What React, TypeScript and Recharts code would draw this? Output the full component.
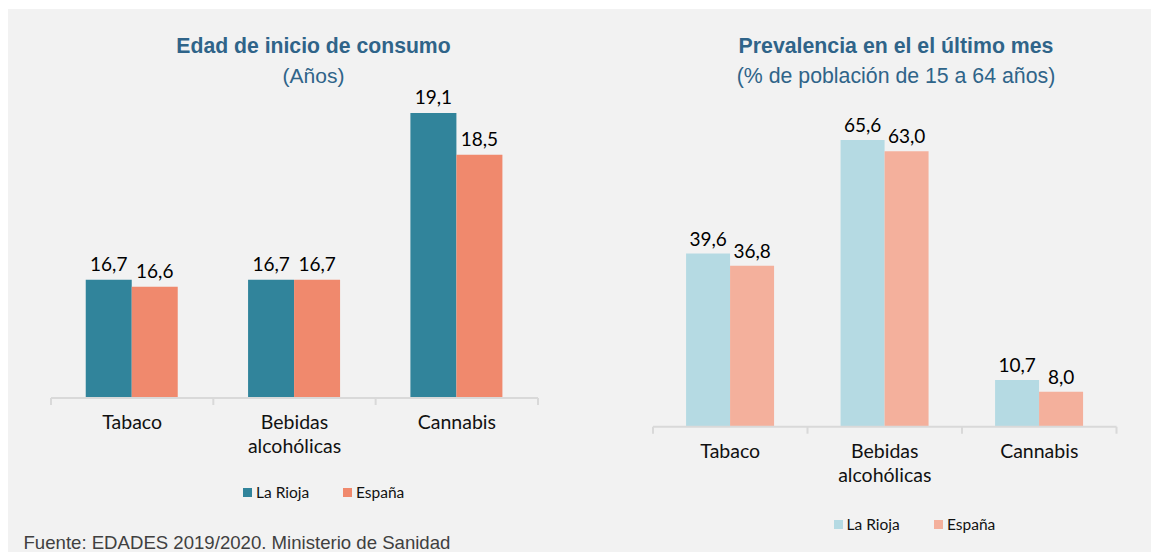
import React from "react";
import { BarChart, Bar, XAxis, YAxis, LabelList } from "recharts";

const categories = ["Tabaco", "Bebidas alcohólicas", "Cannabis"];
const seriesNames = ["La Rioja", "España"];

// Edad de inicio de consumo (años)
const edadRioja = [16.7, 16.7, 19.1];
const edadEspana = [16.6, 16.7, 18.5];

// Prevalencia en el último mes (%)
const prevRioja = [39.6, 65.6, 10.7];
const prevEspana = [36.8, 63.0, 8.0];

const leftColors = ["#31849b", "#f0896d"];
const rightColors = ["#b5dae3", "#f4b09c"];

const edadData = categories.map((name, i) => ({
  name,
  rioja: edadRioja[i],
  espana: edadEspana[i],
}));

const prevData = categories.map((name, i) => ({
  name,
  rioja: prevRioja[i],
  espana: prevEspana[i],
}));

const fmt = (v: any) => Number(v).toFixed(1).replace(".", ",");

const CatTick = (props: any) => {
  const { x, y, payload, index, visibleTicksCount, width, fs } = props;
  const half =
    payload && payload.offset ? payload.offset : width / visibleTicksCount / 2;
  const lines = String(payload.value).split(" ");
  return (
    <g>
      <line x1={x - half} x2={x - half} y1={y} y2={y + 7} stroke="#d9d9d9" strokeWidth={2} />
      {index === visibleTicksCount - 1 && (
        <line x1={x + half} x2={x + half} y1={y} y2={y + 7} stroke="#d9d9d9" strokeWidth={2} />
      )}
      <text x={x} y={y + 31} textAnchor="middle" fontFamily="Lato" fontSize={fs} fill="#111">
        {lines.map((l, i) => (
          <tspan key={i} x={x} dy={i === 0 ? 0 : 24}>
            {l}
          </tspan>
        ))}
      </text>
    </g>
  );
};

const LegendItem = ({ left, top, color, label }: any) => (
  <div
    style={{
      position: "absolute",
      left,
      top,
      height: 20,
      display: "flex",
      alignItems: "center",
      fontFamily: "Lato",
      fontSize: 15.5,
      color: "#111",
      whiteSpace: "nowrap",
    }}
  >
    <span style={{ width: 9, height: 9, background: color, marginRight: 4, display: "inline-block" }} />
    {label}
  </div>
);

const titleStyle: React.CSSProperties = {
  position: "absolute",
  width: 400,
  textAlign: "center",
  fontFamily: "'Liberation Sans', Arial, sans-serif",
  color: "#2f6489",
  lineHeight: "24px",
  whiteSpace: "nowrap",
};

const App = () => {
  return (
    <div
      style={{
        position: "relative",
        marginTop: 1,
        width: 1151,
        height: 543,
        background: "#f2f2f2",
        overflow: "hidden",
      }}
    >
      <div style={{ ...titleStyle, left: 105.5, top: 25, fontSize: 21.2, fontWeight: "bold" }}>
        Edad de inicio de consumo
      </div>
      <div style={{ ...titleStyle, left: 105.5, top: 55, fontSize: 21 }}>(Años)</div>

      <div style={{ ...titleStyle, left: 688, top: 25, fontSize: 21.3, fontWeight: "bold" }}>
        Prevalencia en el el último mes
      </div>
      <div style={{ ...titleStyle, left: 688, top: 55, fontSize: 21.3 }}>
        (% de población de 15 a 64 años)
      </div>

      <div style={{ position: "absolute", left: 0, top: 0 }}>
        <BarChart
          width={560}
          height={470}
          data={edadData}
          margin={{ top: 41.5, left: 43, right: 30, bottom: 11 }}
          barCategoryGap="21.4%"
          barGap={0}
        >
          <XAxis
            dataKey="name"
            height={70}
            interval={0}
            tickSize={0}
            tickMargin={0}
            tickLine={false}
            axisLine={{ stroke: "#d9d9d9", strokeWidth: 2 }}
            tick={(p: any) => <CatTick {...p} fs={19.5} />}
          />
          <YAxis hide domain={[15, 20]} />
          <Bar dataKey="rioja" fill={leftColors[0]} isAnimationActive={false}>
            <LabelList dataKey="rioja" position="top" offset={9} formatter={fmt} fill="#000" fontSize={19} fontFamily="Lato" />
          </Bar>
          <Bar dataKey="espana" fill={leftColors[1]} isAnimationActive={false}>
            <LabelList dataKey="espana" position="top" offset={9} formatter={fmt} fill="#000" fontSize={19} fontFamily="Lato" />
          </Bar>
        </BarChart>
      </div>

      <div style={{ position: "absolute", left: 560, top: 0 }}>
        <BarChart
          width={591}
          height={500}
          data={prevData}
          margin={{ top: 111.7, left: 85, right: 42.5, bottom: 12.3 }}
          barCategoryGap="21.4%"
          barGap={0}
        >
          <XAxis
            dataKey="name"
            height={70}
            interval={0}
            tickSize={0}
            tickMargin={0}
            tickLine={false}
            axisLine={{ stroke: "#d9d9d9", strokeWidth: 2 }}
            tick={(p: any) => <CatTick {...p} fs={19.5} />}
          />
          <YAxis hide domain={[0, 70]} />
          <Bar dataKey="rioja" fill={rightColors[0]} isAnimationActive={false}>
            <LabelList dataKey="rioja" position="top" offset={8} formatter={fmt} fill="#000" fontSize={19} fontFamily="Lato" />
          </Bar>
          <Bar dataKey="espana" fill={rightColors[1]} isAnimationActive={false}>
            <LabelList dataKey="espana" position="top" offset={8} formatter={fmt} fill="#000" fontSize={19} fontFamily="Lato" />
          </Bar>
        </BarChart>
      </div>

      <LegendItem left={235} top={473} color={leftColors[0]} label={seriesNames[0]} />
      <LegendItem left={335} top={473} color={leftColors[1]} label={seriesNames[1]} />
      <LegendItem left={825.5} top={505} color={rightColors[0]} label={seriesNames[0]} />
      <LegendItem left={926} top={505} color={rightColors[1]} label={seriesNames[1]} />

      <div
        style={{
          position: "absolute",
          left: 15.5,
          top: 524,
          lineHeight: "20px",
          fontFamily: "'Liberation Sans', Arial, sans-serif",
          fontSize: 18.6,
          color: "#404040",
          whiteSpace: "nowrap",
        }}
      >
        Fuente: EDADES 2019/2020. Ministerio de Sanidad
      </div>
    </div>
  );
};

export default App;
